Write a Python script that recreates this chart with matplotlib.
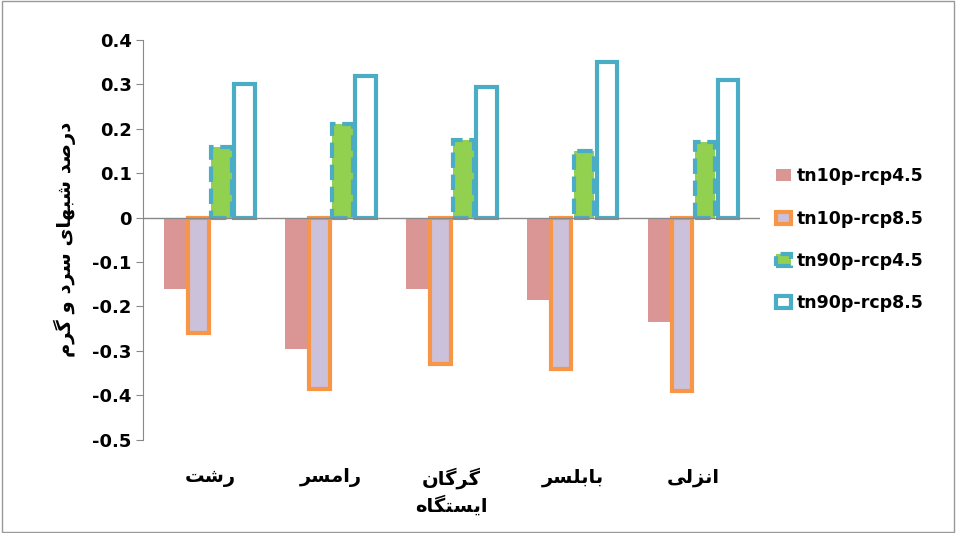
import numpy as np
import matplotlib
matplotlib.use("Agg")
import matplotlib.pyplot as plt
from matplotlib.patches import Rectangle

stations = ["رشت", "رامسر", "گرگان", "بابلسر", "انزلی"]
series = ["tn10p-rcp4.5", "tn10p-rcp8.5", "tn90p-rcp4.5", "tn90p-rcp8.5"]
tn10_45 = [-0.16, -0.295, -0.16, -0.185, -0.235]
tn10_85 = [-0.26, -0.385, -0.33, -0.34, -0.39]
tn90_45 = [0.16, 0.21, 0.175, 0.15, 0.17]
tn90_85 = [0.30, 0.32, 0.295, 0.35, 0.31]
yticks = [-0.5, -0.4, -0.3, -0.2, -0.1, 0, 0.1, 0.2, 0.3, 0.4]
ylabel = "درصد شبهای سرد و گرم"
xlabel = "ایستگاه"

# simple persian shaping (matplotlib has no bidi/joining)
FORMS = {
    "ا": (0xFE8D, 0xFE8E, None, None), "ب": (0xFE8F, 0xFE90, 0xFE91, 0xFE92),
    "ت": (0xFE95, 0xFE96, 0xFE97, 0xFE98), "د": (0xFEA9, 0xFEAA, None, None),
    "ر": (0xFEAD, 0xFEAE, None, None), "ز": (0xFEAF, 0xFEB0, None, None),
    "س": (0xFEB1, 0xFEB2, 0xFEB3, 0xFEB4), "ش": (0xFEB5, 0xFEB6, 0xFEB7, 0xFEB8),
    "ص": (0xFEB9, 0xFEBA, 0xFEBB, 0xFEBC), "ل": (0xFEDD, 0xFEDE, 0xFEDF, 0xFEE0),
    "م": (0xFEE1, 0xFEE2, 0xFEE3, 0xFEE4), "ن": (0xFEE5, 0xFEE6, 0xFEE7, 0xFEE8),
    "ه": (0xFEE9, 0xFEEA, 0xFEEB, 0xFEEC), "و": (0xFEED, 0xFEEE, None, None),
    "ی": (0xFBFC, 0xFBFD, 0xFBFE, 0xFBFF), "گ": (0xFB92, 0xFB93, 0xFB94, 0xFB95),
}


def shape(text):
    out = []
    for word in text.split(" "):
        chars = list(word)
        res = []
        for i, c in enumerate(chars):
            f = FORMS.get(c)
            if f is None:
                res.append(c)
                continue
            prev = chars[i - 1] if i > 0 else None
            nxt = chars[i + 1] if i < len(chars) - 1 else None
            join_prev = prev in FORMS and FORMS[prev][2] is not None
            join_next = nxt in FORMS and f[2] is not None
            if join_prev and join_next:
                g = f[3]
            elif join_prev:
                g = f[1]
            elif join_next:
                g = f[2]
            else:
                g = f[0]
            res.append(chr(g))
        out.append("".join(res[::-1]))
    return " ".join(out[::-1])


plt.rcParams['font.family'] = ['DejaVu Sans']
plt.rcParams['font.weight'] = 'bold'

fig = plt.figure(figsize=(9.56, 5.33), dpi=100)
fig.patches.append(Rectangle((0.002, 0.002), 0.996, 0.996, transform=fig.transFigure,
                             fill=False, edgecolor='#999999', linewidth=1))
ax = fig.add_axes([0.15, 0.175, 0.645, 0.75])

x = np.arange(len(stations))
w = 0.19
ax.bar(x - 1.5 * w, tn10_45, w, color='#d99694', label=series[0])
ax.bar(x - 0.5 * w, tn10_85, w * 0.9, color='#ccc1da', edgecolor='#f79646', linewidth=3, label=series[1])
ax.bar(x + 0.5 * w, tn90_45, w * 0.9, color='#92d050', edgecolor='#4bacc6', linewidth=3,
       linestyle='--', label=series[2])
ax.bar(x + 1.5 * w, tn90_85, w * 0.9, color='white', edgecolor='#4bacc6', linewidth=3, label=series[3])

ax.axhline(0, color='#888888', linewidth=1)
ax.set_ylim(-0.5, 0.4)
ax.set_xlim(-0.55, len(stations) - 0.45)
ax.set_yticks(yticks)
ax.set_yticklabels(["%g" % v for v in yticks], fontsize=13, fontweight='bold')
ax.set_xticks(x)
ax.set_xticklabels([shape(s) for s in stations], fontsize=14, fontweight='bold')
ax.tick_params(axis='x', length=0, pad=20)
ax.tick_params(axis='y', direction='out', length=5, color='#888888')
for s in ['top', 'right', 'bottom']:
    ax.spines[s].set_visible(False)
ax.spines['left'].set_color('#888888')
ax.set_ylabel(shape(ylabel), fontsize=14, fontweight='bold', labelpad=12)
ax.set_xlabel(shape(xlabel), fontsize=14, fontweight='bold', labelpad=4)

ax.legend(loc='center left', bbox_to_anchor=(1.0, 0.5), frameon=False,
          labelspacing=1.4, handlelength=0.9, handletextpad=0.3, prop={'weight': 'bold', 'size': 12.5})

fig.savefig("out.png", dpi=100)
